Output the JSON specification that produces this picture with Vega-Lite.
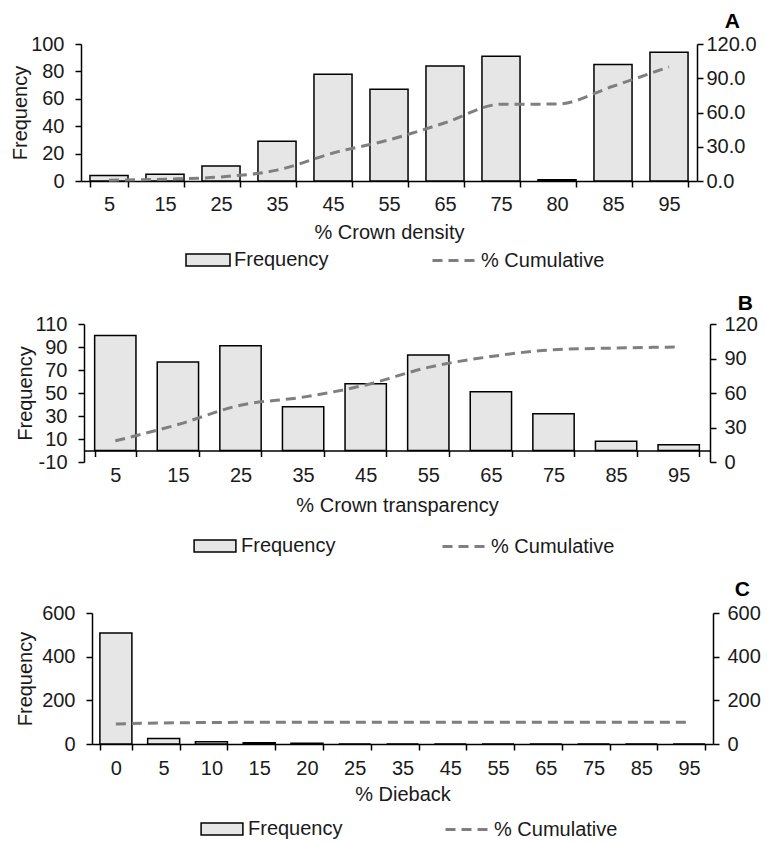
{
  "$schema": "https://vega.github.io/schema/vega-lite/v6.json",
  "padding": {"left": 10, "top": 11, "right": 2, "bottom": 0},
  "background": "white",
  "spacing": 22,
  "config": {
    "font": "Liberation Sans",
    "view": {"stroke": null},
    "axis": {"labelFontSize": 20, "titleFontSize": 20, "labelColor": "#1a1a1a", "titleColor": "#1a1a1a", "titleFontWeight": "normal", "domainColor": "black", "tickColor": "black", "domainWidth": 1.5, "tickWidth": 1.5, "tickSize": 6, "grid": false, "labelPadding": 4, "titlePadding": 4},
    "legend": {"labelFontSize": 20, "labelColor": "#1a1a1a", "padding": 0, "labelOffset": 14},
    "title": {"fontSize": 21, "fontWeight": "bold", "color": "black", "anchor": "end", "frame": "group"}
  },
  "resolve": {"scale": {"x": "independent", "y": "independent", "fill": "independent", "strokeDash": "independent"}},
  "datasets": {
    "A": [
      {"cat": "5", "freq": 4, "cum": 0.7},
      {"cat": "15", "freq": 5, "cum": 1.6},
      {"cat": "25", "freq": 11, "cum": 3.6},
      {"cat": "35", "freq": 29, "cum": 9.5},
      {"cat": "45", "freq": 78, "cum": 24.5},
      {"cat": "55", "freq": 67, "cum": 36},
      {"cat": "65", "freq": 84, "cum": 51},
      {"cat": "75", "freq": 91, "cum": 67.2},
      {"cat": "80", "freq": 1, "cum": 67.4},
      {"cat": "85", "freq": 85, "cum": 83},
      {"cat": "95", "freq": 94, "cum": 100}
    ],
    "B": [
      {"cat": "5", "freq": 100, "cum": 18.4},
      {"cat": "15", "freq": 77, "cum": 32.6},
      {"cat": "25", "freq": 91, "cum": 49.4},
      {"cat": "35", "freq": 38, "cum": 56.4},
      {"cat": "45", "freq": 58, "cum": 67},
      {"cat": "55", "freq": 83, "cum": 82.3},
      {"cat": "65", "freq": 51, "cum": 91.7},
      {"cat": "75", "freq": 32, "cum": 97.6},
      {"cat": "85", "freq": 8, "cum": 99.1},
      {"cat": "95", "freq": 5, "cum": 100}
    ],
    "C": [
      {"cat": "0", "freq": 508, "cum": 92},
      {"cat": "5", "freq": 25, "cum": 96.6},
      {"cat": "10", "freq": 10, "cum": 98.4},
      {"cat": "15", "freq": 6, "cum": 99.5},
      {"cat": "20", "freq": 3, "cum": 100},
      {"cat": "25", "freq": 0, "cum": 100},
      {"cat": "35", "freq": 0, "cum": 100},
      {"cat": "45", "freq": 0, "cum": 100},
      {"cat": "55", "freq": 0, "cum": 100},
      {"cat": "65", "freq": 0, "cum": 100},
      {"cat": "75", "freq": 0, "cum": 100},
      {"cat": "85", "freq": 0, "cum": 100},
      {"cat": "95", "freq": 0, "cum": 100}
    ]
  },
  "vconcat": [
    {
      "width": 616, "height": 137,
      "data": {"name": "A"},
      "title": {"text": "A", "dx": 43, "offset": 2},
      "resolve": {"scale": {"y": "independent"}},
      "layer": [
        {
          "mark": {"type": "bar", "stroke": "black", "strokeWidth": 1.5},
          "encoding": {
            "x": {"field": "cat", "type": "ordinal", "sort": null, "scale": {"paddingInner": 0.32, "paddingOuter": 0.16}, "axis": {"title": "% Crown density", "labelAngle": 0, "tickBand": "extent", "labelPadding": 7, "titlePadding": 8}},
            "y": {"field": "freq", "type": "quantitative", "scale": {"domain": [0, 100]}, "axis": {"title": "Frequency", "values": [0, 20, 40, 60, 80, 100], "labelPadding": 11, "titlePadding": 0}},
            "fill": {"datum": "Frequency", "scale": {"range": ["#e6e6e6"]}, "legend": {"orient": "none", "legendX": 115, "legendY": 204, "title": null, "symbolType": "M-2,-0.54H2V0.54H-2Z", "symbolSize": 484, "symbolStrokeColor": "black", "symbolStrokeWidth": 1.5}}
          }
        },
        {
          "mark": {"type": "line", "color": "#7f7f7f", "strokeWidth": 3, "interpolate": "monotone"},
          "encoding": {
            "x": {"field": "cat", "type": "ordinal", "sort": null},
            "y": {"field": "cum", "type": "quantitative", "scale": {"domain": [0, 120]}, "axis": {"orient": "right", "title": null, "values": [0, 30, 60, 90, 120], "format": ".1f", "labelPadding": 3}},
            "strokeDash": {"datum": "% Cumulative", "scale": {"range": [[10, 6]]}, "legend": {"orient": "none", "legendX": 361, "legendY": 204, "title": null, "symbolType": "M-2,0H2", "symbolSize": 484, "symbolFillColor": "transparent", "symbolStrokeColor": "#7f7f7f", "symbolStrokeWidth": 3}}
          }
        }
      ]
    },
    {
      "width": 629, "height": 138,
      "data": {"name": "B"},
      "title": {"text": "B", "dx": 43, "offset": 0},
      "resolve": {"scale": {"y": "independent"}},
      "layer": [
        {
          "mark": {"type": "bar", "stroke": "black", "strokeWidth": 1.5},
          "encoding": {
            "x": {"field": "cat", "type": "ordinal", "sort": null, "scale": {"range": [3, 629], "paddingInner": 0.34, "paddingOuter": 0.17}, "axis": {"title": "% Crown transparency", "labelAngle": 0, "tickBand": "extent", "offset": -11.5, "labelPadding": 9, "titlePadding": 10}},
            "y": {"field": "freq", "type": "quantitative", "scale": {"domain": [-10, 110]}, "axis": {"title": "Frequency", "offset": -3, "values": [-10, 10, 30, 50, 70, 90, 110], "labelExpr": "replace(datum.label, '−', '-')", "labelPadding": 11, "titlePadding": 0}},
            "fill": {"datum": "Frequency", "scale": {"range": ["#e6e6e6"]}, "legend": {"orient": "none", "legendX": 122, "legendY": 210, "title": null, "symbolType": "M-1.9,-0.54H1.9V0.54H-1.9Z", "symbolSize": 484, "symbolStrokeColor": "black", "symbolStrokeWidth": 1.5}}
          }
        },
        {
          "mark": {"type": "line", "color": "#7f7f7f", "strokeWidth": 3, "interpolate": "monotone"},
          "encoding": {
            "x": {"field": "cat", "type": "ordinal", "sort": null},
            "y": {"field": "cum", "type": "quantitative", "scale": {"domain": [0, 120]}, "axis": {"orient": "right", "title": null, "values": [0, 30, 60, 90, 120], "labelPadding": 8}},
            "strokeDash": {"datum": "% Cumulative", "scale": {"range": [[10, 6]]}, "legend": {"orient": "none", "legendX": 371, "legendY": 210, "title": null, "symbolType": "M-2,0H2", "symbolSize": 484, "symbolFillColor": "transparent", "symbolStrokeColor": "#7f7f7f", "symbolStrokeWidth": 3}}
          }
        }
      ]
    },
    {
      "width": 632, "height": 131,
      "data": {"name": "C"},
      "title": {"text": "C", "dx": 37, "offset": 3},
      "resolve": {"scale": {"y": "independent"}},
      "layer": [
        {
          "mark": {"type": "bar", "stroke": "black", "strokeWidth": 1.5},
          "encoding": {
            "x": {"field": "cat", "type": "ordinal", "sort": null, "scale": {"range": [11, 632], "paddingInner": 0.33, "paddingOuter": 0.165}, "axis": {"title": "% Dieback", "labelAngle": 0, "tickBand": "extent", "labelPadding": 8, "titlePadding": 6}},
            "y": {"field": "freq", "type": "quantitative", "scale": {"domain": [0, 600]}, "axis": {"title": "Frequency", "offset": -11, "values": [0, 200, 400, 600], "labelPadding": 11, "titlePadding": 6}},
            "fill": {"datum": "Frequency", "scale": {"range": ["#e6e6e6"]}, "legend": {"orient": "none", "legendX": 129, "legendY": 204, "title": null, "symbolType": "M-1.9,-0.54H1.9V0.54H-1.9Z", "symbolSize": 484, "symbolStrokeColor": "black", "symbolStrokeWidth": 1.5}}
          }
        },
        {
          "mark": {"type": "line", "color": "#7f7f7f", "strokeWidth": 3, "interpolate": "monotone"},
          "encoding": {
            "x": {"field": "cat", "type": "ordinal", "sort": null},
            "y": {"field": "cum", "type": "quantitative", "scale": {"domain": [0, 600]}, "axis": {"orient": "right", "title": null, "values": [0, 200, 400, 600], "labelPadding": 8}},
            "strokeDash": {"datum": "% Cumulative", "scale": {"range": [[10, 6]]}, "legend": {"orient": "none", "legendX": 374, "legendY": 204, "title": null, "symbolType": "M-2,0H2", "symbolSize": 484, "symbolFillColor": "transparent", "symbolStrokeColor": "#7f7f7f", "symbolStrokeWidth": 3}}
          }
        }
      ]
    }
  ]
}
